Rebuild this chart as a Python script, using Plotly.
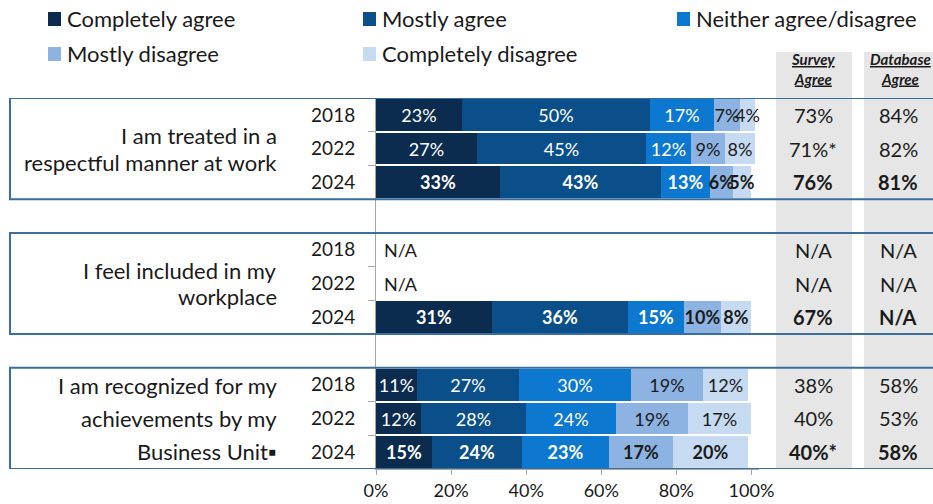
import plotly.graph_objects as go

# ---- data -------------------------------------------------------------
questions = [
    ["I am treated in a", "respectful manner at work"],
    ["I feel included in my", "workplace"],
    ["I am recognized for my", "achievements by my", "Business Unit\u25aa"],
]
years = ["2018", "2022", "2024"]

series_names = ["Completely agree", "Mostly agree", "Neither agree/disagree",
                "Mostly disagree", "Completely disagree"]

# one value per (question, year); None = not asked that year
completely_agree = [23, 27, 33, None, None, 31, 11, 12, 15]
mostly_agree = [50, 45, 43, None, None, 36, 27, 28, 24]
neither = [17, 12, 13, None, None, 15, 30, 24, 23]
mostly_disagree = [7, 9, 6, None, None, 10, 19, 19, 17]
completely_disagree = [4, 8, 5, None, None, 8, 12, 17, 20]

survey_agree = ["73%", "71%*", "76%", "N/A", "N/A", "67%", "38%", "40%", "40%*"]
database_agree = ["84%", "82%", "81%", "N/A", "N/A", "N/A", "58%", "53%", "58%"]

x_ticks = [0, 20, 40, 60, 80, 100]
x_tick_labels = ["0%", "20%", "40%", "60%", "80%", "100%"]

# ---- styling ----------------------------------------------------------
FONT = "Lato"
DARK = "#1a1a1a"
colors = ["#0b2c4f", "#0a4f8a", "#0d78d0", "#8db3e2", "#c6daf1"]
text_colors = ["white", "white", "white", DARK, DARK]
BOX = "#3a6e9e"
BAND = "#e6e6e6"
AXIS = "#a6a6a6"

X_MAX = 102  # a little headroom so totals of 101% stay inside the axis
W, H = 933, 504
L, R, T, B = 376, 174, 98, 35
PW, PH = W - L - R, H - T - B


def px_x(p):
    return (p - L) / PW


def px_y(p):
    return 1 + (T - p) / PH


# row position of each (question, year): one blank row between groups
rows = [g * 4 + r for g in range(len(questions)) for r in range(len(years))]
row_years = [years[r] for g in range(len(questions)) for r in range(len(years))]
is_latest = [y == years[-1] for y in row_years]

fig = go.Figure()

all_series = [completely_agree, mostly_agree, neither, mostly_disagree, completely_disagree]
for name, vals, col, tcol in zip(series_names, all_series, colors, text_colors):
    ys, xs, labels = [], [], []
    for yv, v, bold in zip(rows, vals, is_latest):
        if v is None:
            continue
        ys.append(yv)
        xs.append(v)
        labels.append(f"<b>{v}%</b>" if bold else f"{v}%")
    fig.add_trace(go.Bar(
        y=ys, x=xs, orientation="h", name=name,
        marker=dict(color=col, line=dict(width=0)),
        width=0.94,
        text=labels, textposition="inside", insidetextanchor="middle",
        textangle=0, constraintext="none", cliponaxis=False,
        textfont=dict(family=FONT, size=18, color=tcol),
        showlegend=False,
        hovertemplate=name + ": %{x}%<extra></extra>",
    ))

shapes = []
annotations = []

# grey bands behind the two summary columns
for x0, x1 in [(776, 852), (864, 940)]:
    shapes.append(dict(type="rect", xref="paper", yref="paper",
                       x0=px_x(x0), x1=px_x(x1), y0=0, y1=px_y(52),
                       fillcolor=BAND, line=dict(width=0), layer="below"))

# outline around each question group
for g in range(len(questions)):
    shapes.append(dict(type="rect", xref="paper", yref="y",
                       x0=px_x(10), x1=px_x(945),
                       y0=g * 4 - 0.5, y1=g * 4 + 2.5,
                       line=dict(color=BOX, width=2), fillcolor="rgba(0,0,0,0)",
                       layer="above"))

# question labels, right-aligned to the left of the years
line_step = [0.8, 0.8, 0.98]
for g, lines in enumerate(questions):
    centre = g * 4 + 1
    n = len(lines)
    for i, txt in enumerate(lines):
        annotations.append(dict(
            xref="paper", yref="y", x=px_x(279), y=centre + (i - (n - 1) / 2) * line_step[g],
            text=txt, showarrow=False, xanchor="right", yanchor="middle",
            font=dict(family=FONT, size=22, color=DARK)))

# N/A where a question was not asked
for yv, v in zip(rows, completely_agree):
    if v is None:
        annotations.append(dict(xref="x", yref="y", x=1.6, y=yv, text="N/A",
                                showarrow=False, xanchor="left", yanchor="middle",
                                font=dict(family=FONT, size=18, color=DARK)))

# summary columns
for col_px, values in [(813, survey_agree), (898, database_agree)]:
    for yv, txt, bold in zip(rows, values, is_latest):
        annotations.append(dict(xref="paper", yref="y", x=px_x(col_px), y=yv,
                                text=f"<b>{txt}</b>" if bold else txt,
                                showarrow=False, xanchor="center", yanchor="middle",
                                font=dict(family=FONT, size=20, color=DARK)))

for col_px, head in [(813, "Survey"), (900, "Database")]:
    annotations.append(dict(xref="paper", yref="paper", x=px_x(col_px), y=px_y(69),
                            text=f"<b><i><u>{head}</u></i></b><br><b><i><u>Agree</u></i></b>",
                            showarrow=False, xanchor="center", yanchor="middle",
                            font=dict(family=FONT, size=15, color=DARK)))

# legend drawn as coloured squares with labels, laid out in a grid
legend_slots = [(48, 19), (363, 19), (677, 19), (48, 54), (363, 54)]
for (sx, sy), name, col in zip(legend_slots, series_names, colors):
    shapes.append(dict(type="rect", xref="paper", yref="paper",
                       x0=px_x(sx), x1=px_x(sx + 13), y0=px_y(sy + 7), y1=px_y(sy - 7),
                       fillcolor=col, line=dict(width=0)))
    annotations.append(dict(xref="paper", yref="paper", x=px_x(sx + 17), y=px_y(sy - 1),
                            text=name, showarrow=False, xanchor="left", yanchor="middle",
                            font=dict(family=FONT, size=22, color=DARK)))

fig.update_layout(
    width=W, height=H,
    margin=dict(l=L, r=R, t=T, b=B, pad=0),
    barmode="stack", bargap=0,
    plot_bgcolor="rgba(0,0,0,0)", paper_bgcolor="white",
    font=dict(family=FONT, color=DARK),
    shapes=shapes, annotations=annotations,
    showlegend=False,
    xaxis=dict(range=[0, X_MAX], tickvals=x_ticks, ticktext=x_tick_labels,
               ticks="outside", ticklen=5, tickcolor=AXIS,
               showline=True, linecolor=AXIS, linewidth=1,
               showgrid=False, zeroline=False, automargin=False,
               ticklabelstandoff=0,
               tickfont=dict(family=FONT, size=18, color=DARK)),
    yaxis=dict(range=[10.5, -0.5], tickvals=rows, ticktext=row_years,
               ticks="", showline=True, linecolor=AXIS, linewidth=1,
               showgrid=False, zeroline=False, ticklabelstandoff=16,
               automargin=False,
               tickfont=dict(family=FONT, size=19, color=DARK),
               minor=dict(tickmode="array", tickvals=[0.5, 1.5, 4.5, 5.5, 8.5, 9.5],
                          ticks="outside", ticklen=7, tickcolor=AXIS)),
)

fig.write_html("out.html")
